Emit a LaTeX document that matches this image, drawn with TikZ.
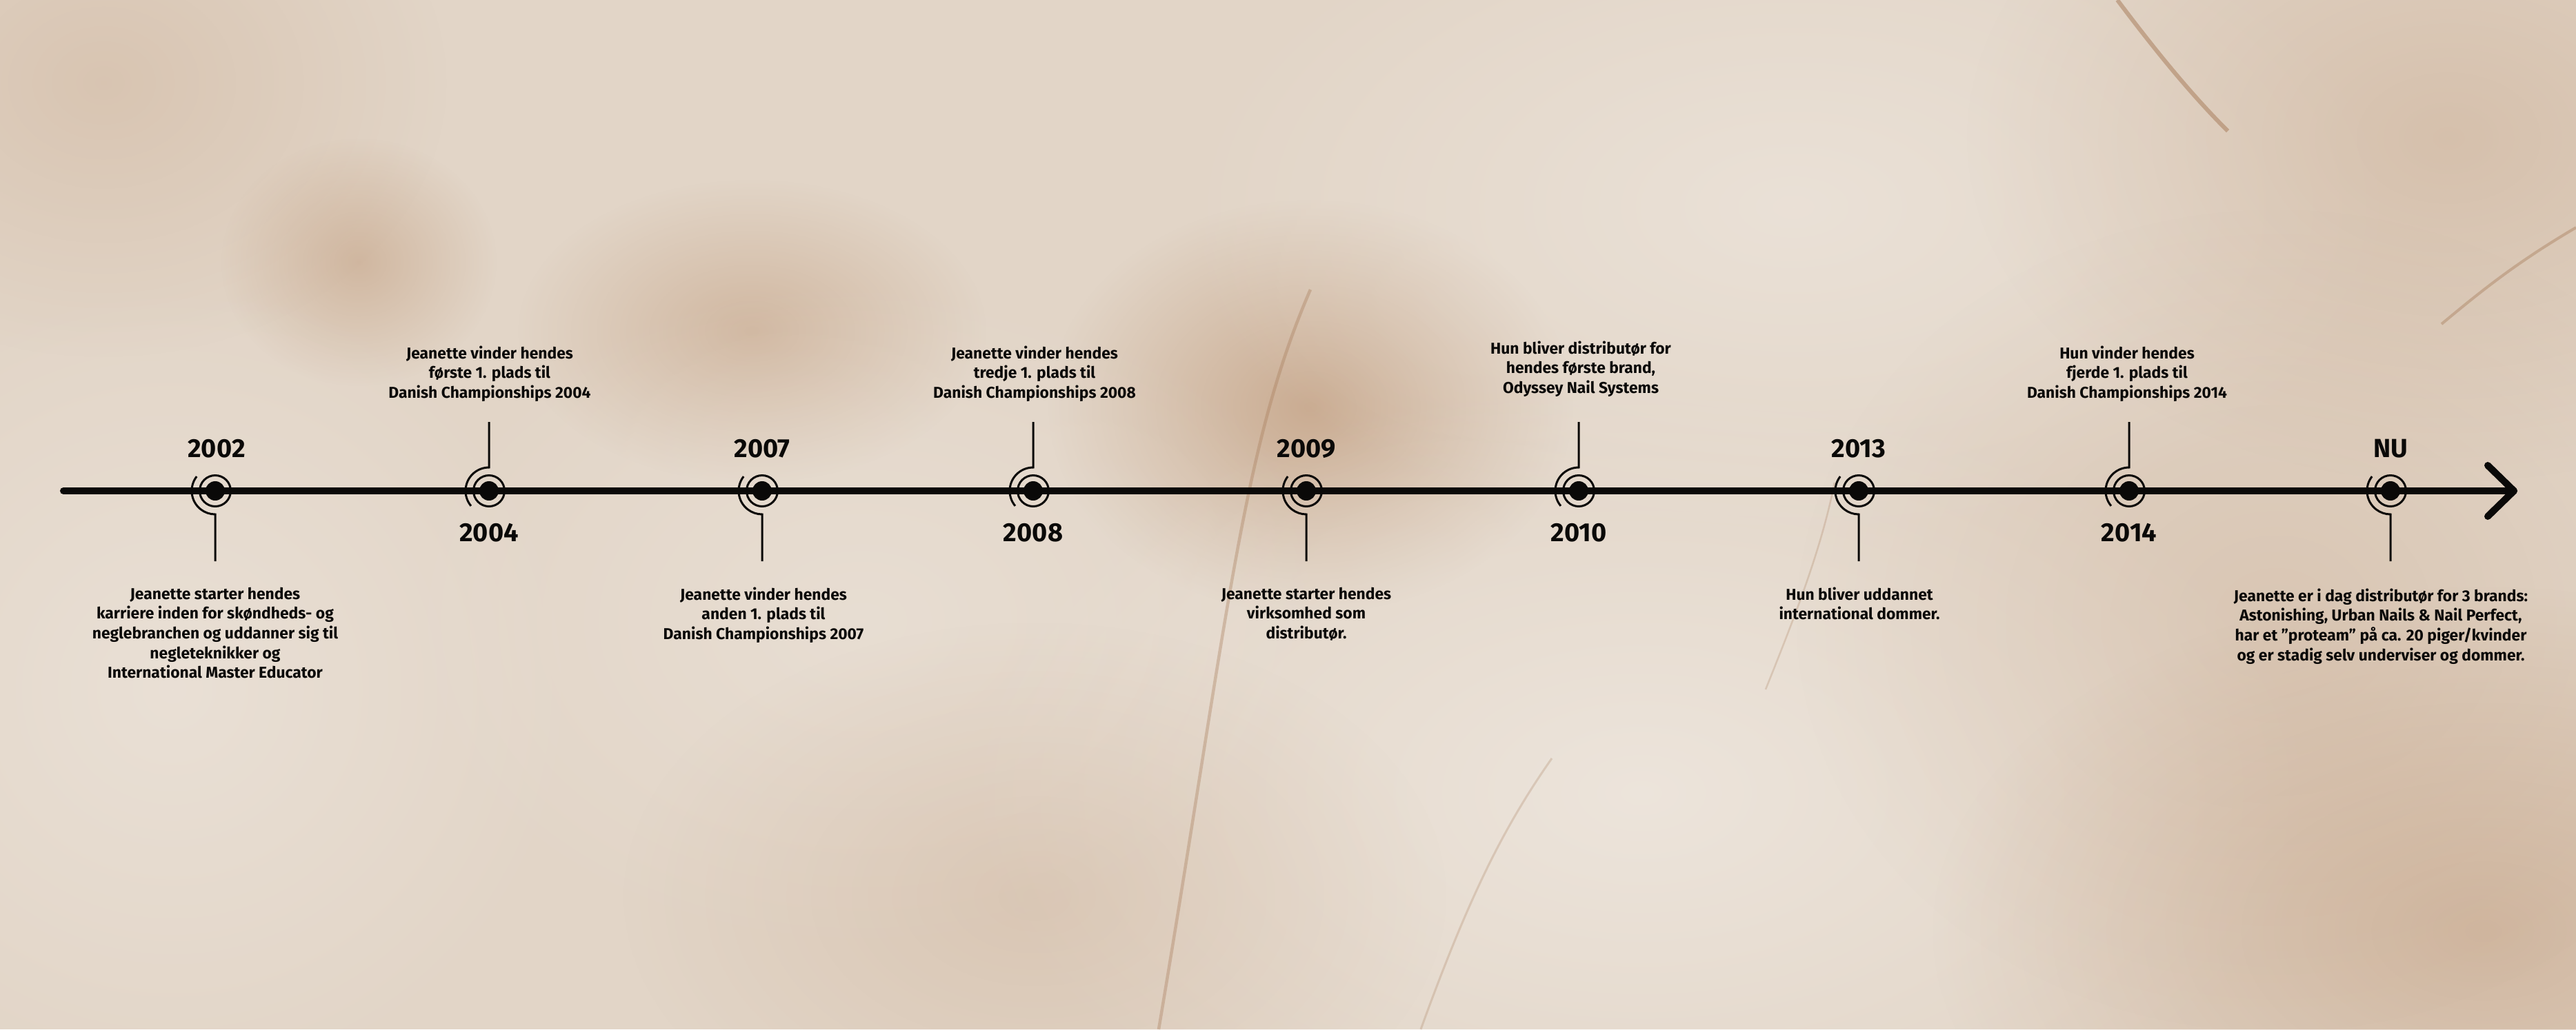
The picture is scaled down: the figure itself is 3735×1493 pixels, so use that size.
\documentclass[tikz,border=0pt]{standalone}
\usepackage{fontspec}
\setmainfont{Fira Sans}
\usetikzlibrary{fadings,calc}
\definecolor{marble}{RGB}{226,213,199}
\definecolor{mbrown}{RGB}{182,138,102}
\definecolor{mlight}{RGB}{241,235,228}
\definecolor{mvein}{RGB}{165,120,85}
\definecolor{ink}{RGB}{10,9,8}
\tikzfading[name=soft, inner color=transparent!0, outer color=transparent!100]
\tikzset{
  blob/.style={fill=#1, path fading=soft},
  mainline/.style={draw=ink, line width=0.1cm, line cap=round, line join=round},
  thinline/.style={draw=ink, line width=0.03cm},
  dot/.style={circle, fill=ink, minimum size=0.28cm, inner sep=0pt},
  yearlbl/.style={text=ink, font=\fontsize{10.8}{12}\selectfont\bfseries, inner sep=0pt, anchor=base},
  bodytxt/.style={text=ink, font=\fontsize{6.5}{8.15}\selectfont\bfseries, align=center, inner sep=0pt},
}
\begin{document}
\begin{tikzpicture}[x=0.01cm,y=-0.01cm]
\useasboundingbox (0,0) rectangle (3735,1493);
\clip (0,0) rectangle (3735,1493);
% marble background
\fill[marble] (0,0) rectangle (3735,1493);
\fill[blob=mbrown, opacity=0.22] (150,120) ellipse [x radius=500, y radius=400];
\fill[blob=mbrown, opacity=0.4] (520,380) ellipse [x radius=200, y radius=180];
\fill[blob=mbrown, opacity=0.4] (1090,480) ellipse [x radius=340, y radius=220];
\fill[blob=mbrown, opacity=0.55] (1900,590) ellipse [x radius=380, y radius=300];
\fill[blob=mlight, opacity=0.7] (2380,1150) ellipse [x radius=1000, y radius=600];
\fill[blob=mlight, opacity=0.5] (250,1000) ellipse [x radius=600, y radius=600];
\fill[blob=mlight, opacity=0.55] (2600,300) ellipse [x radius=900, y radius=500];
\fill[blob=mlight, opacity=0.4] (1250,900) ellipse [x radius=700, y radius=500];
\fill[blob=mbrown, opacity=0.4] (3600,1350) ellipse [x radius=800, y radius=500];
\fill[blob=mbrown, opacity=0.28] (3550,200) ellipse [x radius=700, y radius=500];
\fill[blob=mbrown, opacity=0.2] (3300,900) ellipse [x radius=700, y radius=600];
\fill[blob=mbrown, opacity=0.2] (1500,1300) ellipse [x radius=600, y radius=400];
\draw[mvein, opacity=0.35, line width=0.045cm] (1900,420) .. controls (1800,650) and (1780,900) .. (1680,1493);
\draw[mvein, opacity=0.5, line width=0.06cm] (3070,0) .. controls (3130,80) and (3180,140) .. (3230,190);
\draw[mvein, opacity=0.4, line width=0.04cm] (3735,330) .. controls (3650,380) and (3600,420) .. (3540,470);
\draw[mvein, opacity=0.25, line width=0.03cm] (2060,1493) .. controls (2130,1300) and (2180,1200) .. (2250,1100);
\draw[mvein, opacity=0.25, line width=0.025cm] (2660,700) .. controls (2640,800) and (2600,900) .. (2560,1000);

% main axis
\coordinate (lstart) at (92,712);
\coordinate (tip) at (3645,712);
\coordinate (armA) at (3607,675);
\coordinate (armB) at (3607,749);
\draw[mainline] (lstart) -- (tip);
\draw[mainline] (armA) -- (tip) -- (armB);

% markers
\foreach \n/\x in {m1/312, m2/709, m3/1105, m4/1498, m5/1894, m6/2289, m7/2695, m8/3087, m9/3466}{
  \node[dot] (\n) at (\x,712) {};
  \draw[thinline] (\n.center) circle [radius=22.5];
}
% outer arcs and stems
\foreach \n/\x in {m1/312, m3/1105, m5/1894, m7/2695, m9/3466}{
  \coordinate (s\n) at (\x,814);
  \draw[thinline] (\n.center) ++(218:34) arc [start angle=218, end angle=90, radius=34] -- (s\n);
}
\foreach \n/\x in {m2/709, m4/1498, m6/2289, m8/3087}{
  \coordinate (s\n) at (\x,612);
  \draw[thinline] (\n.center) ++(140:34) arc [start angle=140, end angle=270, radius=34] -- (s\n);
}

% years
\node[yearlbl] (y1) at (314,663) {2002};
\node[yearlbl] (y2) at (709,785) {2004};
\node[yearlbl] (y3) at (1105,663) {2007};
\node[yearlbl] (y4) at (1498,785) {2008};
\node[yearlbl] (y5) at (1894,663) {2009};
\node[yearlbl] (y6) at (2289,785) {2010};
\node[yearlbl] (y7) at (2695,663) {2013};
\node[yearlbl] (y8) at (3087,785) {2014};
\node[yearlbl] (y9) at (3466,663) {NU};

% texts
\node[bodytxt, anchor=north] (t1) at (312,851) {Jeanette starter hendes\\karriere inden for skøndheds- og\\neglebranchen og uddanner sig til\\negleteknikker og\\International Master Educator};
\node[bodytxt, anchor=north] (t2) at (710,501) {Jeanette vinder hendes\\første 1. plads til\\Danish Championships 2004};
\node[bodytxt, anchor=north] (t3) at (1107,851) {Jeanette vinder hendes\\anden 1. plads til\\Danish Championships 2007};
\node[bodytxt, anchor=north] (t4) at (1500,501) {Jeanette vinder hendes\\tredje 1. plads til\\Danish Championships 2008};
\node[bodytxt, anchor=north] (t5) at (1894,851) {Jeanette starter hendes\\virksomhed som\\distributør.};
\node[bodytxt, anchor=north] (t6) at (2292,494) {Hun bliver distributør for\\hendes første brand,\\Odyssey Nail Systems};
\node[bodytxt, anchor=north] (t7) at (2696,851) {Hun bliver uddannet\\international dommer.};
\node[bodytxt, anchor=north] (t8) at (3084,501) {Hun vinder hendes\\fjerde 1. plads til\\Danish Championships 2014};
\node[bodytxt, anchor=north] (t9) at (3452,853) {Jeanette er i dag distributør for 3 brands:\\Astonishing, Urban Nails \& Nail Perfect,\\har et ”proteam” på ca. 20 piger/kvinder\\og er stadig selv underviser og dommer.};
\end{tikzpicture}
\end{document}
